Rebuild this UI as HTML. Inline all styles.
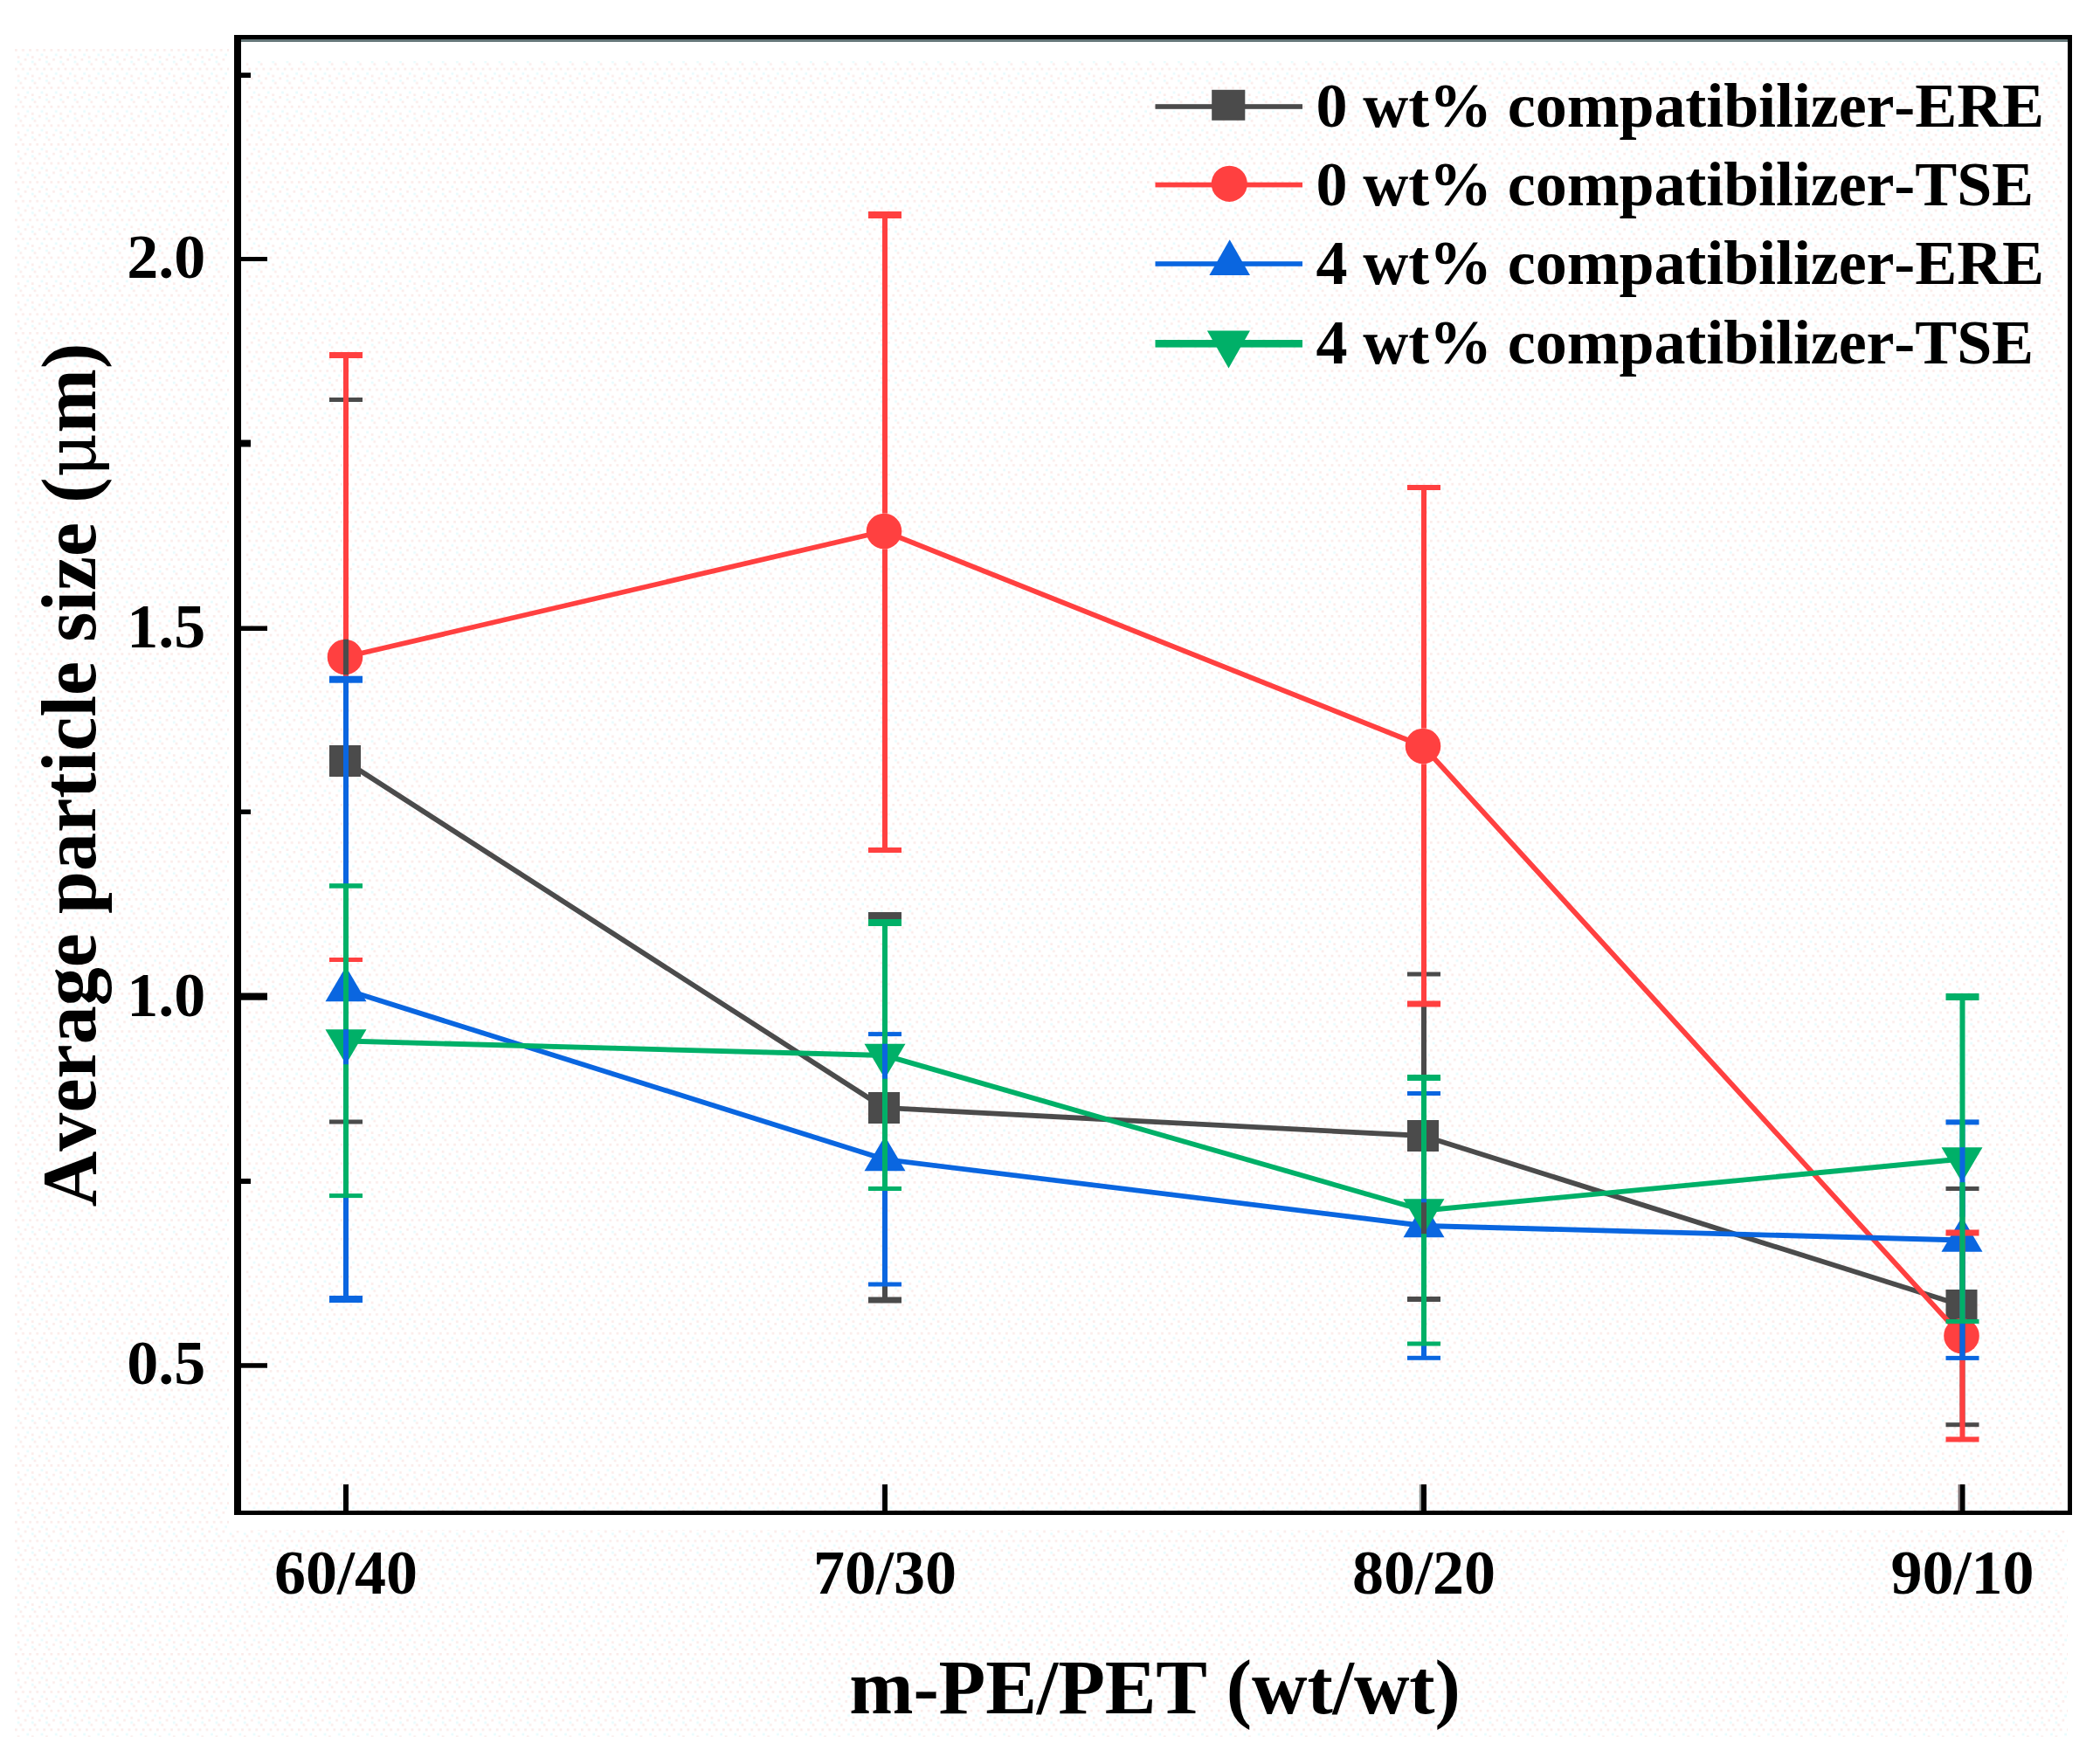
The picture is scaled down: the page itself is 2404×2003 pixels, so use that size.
<!DOCTYPE html>
<html lang="en"><head><meta charset="utf-8"><title>Average particle size vs m-PE/PET</title>
<style>
html,body{margin:0;padding:0;background:#fff;}
body{width:2404px;height:2003px;overflow:hidden;}
svg{display:block;}
text{font-family:"Liberation Serif","DejaVu Serif",serif;font-weight:bold;fill:#000;font-kerning:none;}
.tk{font-size:72px;}
.ti{font-size:88px;}
</style></head><body>
<svg width="2404" height="2003" viewBox="0 0 2404 2003">
<rect x="0" y="0" width="2404" height="2003" fill="#ffffff"/>
<defs><pattern id="spk" width="6" height="8" patternUnits="userSpaceOnUse" patternTransform="translate(17,56) scale(2.7)">
<g fill="#fbecea"><rect x="0" y="0" width="1" height="1"/><rect x="3" y="0" width="1" height="1"/><rect x="1" y="3" width="1" height="1"/><rect x="4" y="4" width="1" height="1"/><rect x="2" y="6" width="1" height="1"/></g>
<g fill="#e8fbfd"><rect x="5" y="2" width="1" height="1"/><rect x="1" y="5" width="1" height="1"/></g>
</pattern></defs>
<rect x="17" y="56" width="2350" height="1932" fill="url(#spk)"/>
<rect x="262" y="34" width="2116" height="36" fill="#ffffff"/>
<rect x="262" y="1734" width="2116" height="17" fill="#ffffff"/>
<rect x="262" y="34" width="20" height="1718" fill="#ffffff"/>
<rect x="2360" y="34" width="18" height="1718" fill="#ffffff"/>
<polyline points="395.0,871.0 1012.0,1268.0 1629.0,1300.0 2245.5,1494.0" fill="none" stroke="#4b4b4b" stroke-width="5.8" stroke-linejoin="round"/>
<rect x="377.0" y="853.0" width="36" height="36" fill="#4b4b4b"/>
<rect x="994.0" y="1250.0" width="36" height="36" fill="#4b4b4b"/>
<rect x="1611.0" y="1282.0" width="36" height="36" fill="#4b4b4b"/>
<rect x="2227.5" y="1476.0" width="36" height="36" fill="#4b4b4b"/>
<polyline points="395.0,752.0 1012.0,608.0 1629.0,854.0 2245.5,1529.0" fill="none" stroke="#ff4040" stroke-width="5.8" stroke-linejoin="round"/>
<circle cx="395.0" cy="752.0" r="20.3" fill="#ff4040"/>
<circle cx="1012.0" cy="608.0" r="20.3" fill="#ff4040"/>
<circle cx="1629.0" cy="854.0" r="20.3" fill="#ff4040"/>
<circle cx="2245.5" cy="1529.0" r="20.3" fill="#ff4040"/>
<polyline points="396.0,1133.0 1013.0,1327.0 1630.0,1403.0 2246.0,1419.5" fill="none" stroke="#0a66e0" stroke-width="5.8" stroke-linejoin="round"/>
<polygon points="372.5,1146.3 419.5,1146.3 396.0,1106.3" fill="#0a66e0"/>
<polygon points="989.5,1340.3 1036.5,1340.3 1013.0,1300.3" fill="#0a66e0"/>
<polygon points="1606.5,1416.3 1653.5,1416.3 1630.0,1376.3" fill="#0a66e0"/>
<polygon points="2222.5,1432.8 2269.5,1432.8 2246.0,1392.8" fill="#0a66e0"/>
<polyline points="396.0,1191.5 1013.0,1208.0 1630.0,1385.5 2246.0,1326.5" fill="none" stroke="#00b068" stroke-width="5.8" stroke-linejoin="round"/>
<polygon points="372.5,1178.2 419.5,1178.2 396.0,1218.2" fill="#00b068"/>
<polygon points="989.5,1194.7 1036.5,1194.7 1013.0,1234.7" fill="#00b068"/>
<polygon points="1606.5,1372.2 1653.5,1372.2 1630.0,1412.2" fill="#00b068"/>
<polygon points="2222.5,1313.2 2269.5,1313.2 2246.0,1353.2" fill="#00b068"/>
<rect x="393.0" y="457.5" width="6" height="395.5" fill="#4b4b4b"/>
<rect x="393.0" y="889.0" width="6" height="395.0" fill="#4b4b4b"/>
<rect x="377.0" y="455.0" width="38" height="5" fill="#4b4b4b"/>
<rect x="377.0" y="1281.5" width="38" height="5" fill="#4b4b4b"/>
<rect x="1010.0" y="1048.0" width="6" height="202.0" fill="#4b4b4b"/>
<rect x="1010.0" y="1286.0" width="6" height="202.0" fill="#4b4b4b"/>
<rect x="994.0" y="1044.0" width="38" height="8" fill="#4b4b4b"/>
<rect x="994.0" y="1484.5" width="38" height="7" fill="#4b4b4b"/>
<rect x="1627.0" y="1115.0" width="6" height="167.0" fill="#4b4b4b"/>
<rect x="1627.0" y="1318.0" width="6" height="169.0" fill="#4b4b4b"/>
<rect x="1611.0" y="1112.5" width="38" height="5" fill="#4b4b4b"/>
<rect x="1611.0" y="1484.0" width="38" height="6" fill="#4b4b4b"/>
<rect x="2243.5" y="1360.5" width="6" height="115.5" fill="#4b4b4b"/>
<rect x="2243.5" y="1512.0" width="6" height="118.7" fill="#4b4b4b"/>
<rect x="2227.5" y="1358.0" width="38" height="5" fill="#4b4b4b"/>
<rect x="2227.5" y="1628.2" width="38" height="5" fill="#4b4b4b"/>
<rect x="393.0" y="406.5" width="6" height="325.2" fill="#ff4040"/>
<rect x="393.0" y="772.3" width="6" height="326.2" fill="#ff4040"/>
<rect x="377.0" y="403.0" width="38" height="7" fill="#ff4040"/>
<rect x="377.0" y="1096.0" width="38" height="5" fill="#ff4040"/>
<rect x="1010.0" y="246.0" width="6" height="341.7" fill="#ff4040"/>
<rect x="1010.0" y="628.3" width="6" height="344.7" fill="#ff4040"/>
<rect x="994.0" y="242.0" width="38" height="8" fill="#ff4040"/>
<rect x="994.0" y="970.0" width="38" height="6" fill="#ff4040"/>
<rect x="1627.0" y="558.0" width="6" height="275.7" fill="#ff4040"/>
<rect x="1627.0" y="874.3" width="6" height="274.7" fill="#ff4040"/>
<rect x="1611.0" y="555.0" width="38" height="6" fill="#ff4040"/>
<rect x="1611.0" y="1145.5" width="38" height="7" fill="#ff4040"/>
<rect x="2243.5" y="1411.0" width="6" height="97.7" fill="#ff4040"/>
<rect x="2243.5" y="1549.3" width="6" height="98.2" fill="#ff4040"/>
<rect x="2227.5" y="1407.5" width="38" height="7" fill="#ff4040"/>
<rect x="2227.5" y="1644.5" width="38" height="6" fill="#ff4040"/>
<rect x="393.0" y="777.7" width="6" height="328.6" fill="#0a66e0"/>
<rect x="393.0" y="1146.3" width="6" height="340.7" fill="#0a66e0"/>
<rect x="377.0" y="773.7" width="38" height="8" fill="#0a66e0"/>
<rect x="377.0" y="1483.0" width="38" height="8" fill="#0a66e0"/>
<rect x="1010.0" y="1183.6" width="6" height="116.7" fill="#0a66e0"/>
<rect x="1010.0" y="1340.3" width="6" height="129.7" fill="#0a66e0"/>
<rect x="994.0" y="1181.1" width="38" height="5" fill="#0a66e0"/>
<rect x="994.0" y="1467.5" width="38" height="5" fill="#0a66e0"/>
<rect x="1627.0" y="1251.5" width="6" height="124.8" fill="#0a66e0"/>
<rect x="1627.0" y="1416.3" width="6" height="138.0" fill="#0a66e0"/>
<rect x="1611.0" y="1249.0" width="38" height="5" fill="#0a66e0"/>
<rect x="1611.0" y="1551.8" width="38" height="5" fill="#0a66e0"/>
<rect x="2243.5" y="1284.4" width="6" height="108.4" fill="#0a66e0"/>
<rect x="2243.5" y="1432.8" width="6" height="121.6" fill="#0a66e0"/>
<rect x="2227.5" y="1281.4" width="38" height="6" fill="#0a66e0"/>
<rect x="2227.5" y="1551.9" width="38" height="5" fill="#0a66e0"/>
<rect x="393.0" y="1014.0" width="6" height="164.2" fill="#00b068"/>
<rect x="393.0" y="1218.2" width="6" height="150.4" fill="#00b068"/>
<rect x="377.0" y="1011.2" width="38" height="5.5" fill="#00b068"/>
<rect x="377.0" y="1366.1" width="38" height="5" fill="#00b068"/>
<rect x="1010.0" y="1056.0" width="6" height="138.7" fill="#00b068"/>
<rect x="1010.0" y="1234.7" width="6" height="125.8" fill="#00b068"/>
<rect x="994.0" y="1052.0" width="38" height="8" fill="#00b068"/>
<rect x="994.0" y="1358.0" width="38" height="5" fill="#00b068"/>
<rect x="1627.0" y="1233.5" width="6" height="138.7" fill="#00b068"/>
<rect x="1627.0" y="1412.2" width="6" height="125.8" fill="#00b068"/>
<rect x="1611.0" y="1230.0" width="38" height="7" fill="#00b068"/>
<rect x="1611.0" y="1535.5" width="38" height="5" fill="#00b068"/>
<rect x="2243.5" y="1141.0" width="6" height="172.2" fill="#00b068"/>
<rect x="2243.5" y="1353.2" width="6" height="159.3" fill="#00b068"/>
<rect x="2227.5" y="1137.0" width="38" height="8" fill="#00b068"/>
<rect x="2227.5" y="1510.0" width="38" height="5" fill="#00b068"/>
<rect x="268" y="40" width="2104" height="5" fill="#000"/>
<rect x="276" y="45" width="2091" height="3" fill="#66787a"/>
<rect x="268" y="40" width="8" height="1694" fill="#000"/>
<rect x="2367" y="40" width="5" height="1694" fill="#000"/>
<rect x="268" y="1729" width="2104" height="5" fill="#000"/>
<rect x="276" y="294" width="30" height="5.0" fill="#000"/>
<rect x="276" y="716.5" width="30" height="5.5" fill="#000"/>
<rect x="276" y="1136.5" width="30" height="8.2" fill="#000"/>
<rect x="276" y="1560.2" width="30" height="5.5" fill="#000"/>
<rect x="276" y="83.2" width="11" height="5.8" fill="#000"/>
<rect x="276" y="503.5" width="11" height="8.0" fill="#000"/>
<rect x="276" y="926.5" width="11" height="5.5" fill="#000"/>
<rect x="276" y="1349" width="11" height="6.0" fill="#000"/>
<rect x="393.0" y="1699" width="6" height="30" fill="#000"/>
<rect x="1010.0" y="1699" width="6" height="30" fill="#000"/>
<rect x="1627.0" y="1699" width="6" height="30" fill="#000"/>
<rect x="2243.5" y="1699" width="6" height="30" fill="#000"/>
<rect x="1624.8" y="1699" width="2.2" height="30" fill="#8f9492"/>
<rect x="2241.6" y="1699" width="2" height="30" fill="#7d6f72"/>
<rect x="1008.3" y="1699" width="1.8" height="30" fill="#e6e1ec"/>
<text class="tk" id="y20" x="235.2" y="317.6" text-anchor="end">2.0</text>
<text class="tk" id="y15" x="235.2" y="741" text-anchor="end">1.5</text>
<text class="tk" id="y10" x="235.2" y="1162.5" text-anchor="end">1.0</text>
<text class="tk" id="y05" x="235.2" y="1583.7" text-anchor="end">0.5</text>
<text class="tk" id="x60" x="396" y="1823.5" text-anchor="middle">60/40</text>
<text class="tk" id="x70" x="1013" y="1823.5" text-anchor="middle">70/30</text>
<text class="tk" id="x80" x="1630" y="1823.5" text-anchor="middle">80/20</text>
<text class="tk" id="x90" x="2246.5" y="1823.5" text-anchor="middle">90/10</text>
<text class="ti" id="xt" x="1322" y="1960.5" text-anchor="middle" letter-spacing="-0.12">m-PE/PET (wt/wt)</text>
<text class="ti" id="yt" transform="translate(109,887) rotate(-90)" text-anchor="middle" letter-spacing="0.08">Average particle size (<tspan font-weight="normal" font-family="DejaVu Serif, serif" font-size="78">μ</tspan>m)</text>
<rect x="1322.5" y="119.2" width="168.5" height="5.6" fill="#4b4b4b"/>
<rect x="1387.2" y="102.8" width="38.1" height="35" fill="#4b4b4b"/>
<text class="tk" id="lg0" x="1506.5" y="144.6" letter-spacing="-0.1">0 wt% compatibilizer-ERE</text>
<rect x="1322.5" y="208.7" width="168.5" height="5.7" fill="#ff4040"/>
<circle cx="1407.3" cy="210.3" r="20.6" fill="#ff4040"/>
<text class="tk" id="lg1" x="1506.5" y="235.1" letter-spacing="-0.1">0 wt% compatibilizer-TSE</text>
<rect x="1322.5" y="299.2" width="168.5" height="5.6" fill="#0a66e0"/>
<polygon points="1384.4,315.1 1431,315.1 1407.7,274.2" fill="#0a66e0"/>
<text class="tk" id="lg2" x="1506.5" y="325.0" letter-spacing="-0.1">4 wt% compatibilizer-ERE</text>
<rect x="1322.5" y="389.0" width="168.5" height="8.6" fill="#00b068"/>
<polygon points="1381.9,378.6 1431,378.6 1406.5,421.6" fill="#00b068"/>
<text class="tk" id="lg3" x="1506.5" y="416.1" letter-spacing="-0.1">4 wt% compatibilizer-TSE</text>
</svg></body></html>
